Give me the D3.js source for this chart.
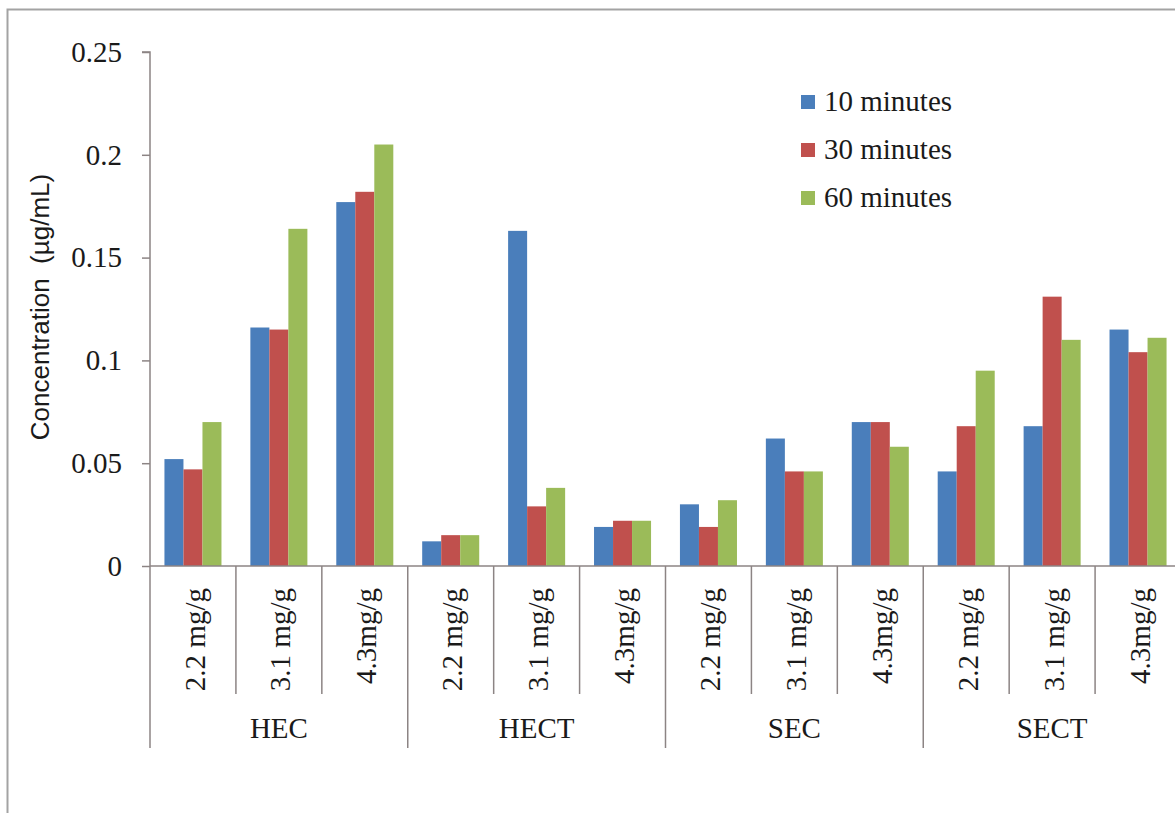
<!DOCTYPE html>
<html>
<head>
<meta charset="utf-8">
<script src="https://cdn.jsdelivr.net/npm/d3@7/dist/d3.min.js"></script>
<style>
  html, body { margin: 0; padding: 0; background: #ffffff; }
  svg { display: block; }
</style>
</head>
<body>
<svg id="chart" width="1175" height="813"></svg>
<script>
// Concentration by formulation, dose and sampling time
const groups = ["HEC", "HECT", "SEC", "SECT"];
const doses = ["2.2 mg/g", "3.1 mg/g", "4.3mg/g"];
const seriesNames = ["10 minutes", "30 minutes", "60 minutes"];
const seriesColors = ["#4a7ebb", "#c0504d", "#9bbb59"];

// values per dose within each group: HEC 2.2, 3.1, 4.3, HECT ..., SEC ..., SECT ...
const min10 = [0.052, 0.116, 0.177, 0.012, 0.163, 0.019, 0.030, 0.062, 0.070, 0.046, 0.068, 0.115];
const min30 = [0.047, 0.115, 0.182, 0.015, 0.029, 0.022, 0.019, 0.046, 0.070, 0.068, 0.131, 0.104];
const min60 = [0.070, 0.164, 0.205, 0.015, 0.038, 0.022, 0.032, 0.046, 0.058, 0.095, 0.110, 0.111];

const yTicks = [0, 0.05, 0.1, 0.15, 0.2, 0.25];
const yLabel = "Concentration  (\u00b5g/mL)";

const serif = "'Liberation Serif', 'Times New Roman', serif";
const sans = "'Liberation Sans', Arial, sans-serif";
const lineColor = "#8c8484";
const fontSize = 29;

// one row per group/dose cell
const cells = [];
groups.forEach((g, gi) => doses.forEach((d, di) => {
  const i = gi * doses.length + di;
  cells.push({ key: g + "|" + d, group: g, dose: d, values: [min10[i], min30[i], min60[i]] });
}));

const svg = d3.select("#chart");

// outer frame (left and top edges are visible)
svg.append("path")
  .attr("d", "M7.5,813 V9.5 H1175")
  .attr("fill", "none")
  .attr("stroke", "#a3a3a3")
  .attr("stroke-width", 2);

const x0 = 150, xEnd = 1181, yTop = 52, yBase = 566;

const x = d3.scaleBand()
  .domain(cells.map(c => c.key))
  .range([x0, xEnd])
  .paddingInner(0).paddingOuter(0);

const xs = d3.scaleBand()
  .domain(d3.range(seriesNames.length))
  .range([0, x.bandwidth()])
  .paddingInner(0)
  .paddingOuter(0.76);

const y = d3.scaleLinear().domain([0, 0.25]).range([yBase, yTop]);

// bars
const cellG = svg.append("g").selectAll("g")
  .data(cells).join("g")
  .attr("transform", c => `translate(${x(c.key)},0)`);

cellG.selectAll("rect")
  .data(c => c.values.map((v, s) => ({ v, s })))
  .join("rect")
  .attr("x", d => xs(d.s))
  .attr("width", xs.bandwidth())
  .attr("y", d => y(d.v))
  .attr("height", d => yBase - y(d.v))
  .attr("fill", d => seriesColors[d.s]);

// y axis
const yAxis = d3.axisLeft(y)
  .tickValues(yTicks)
  .tickSize(8)
  .tickPadding(20)
  .tickFormat(d => d === 0 ? "0" : String(+d.toFixed(2)));

const yg = svg.append("g")
  .attr("transform", `translate(${x0},0)`)
  .call(yAxis);
yg.select(".domain").attr("stroke", lineColor).attr("stroke-width", 1.5)
  .attr("d", `M-8,${yTop}H0V${yBase}`);
yg.selectAll(".tick line").attr("stroke", lineColor).attr("stroke-width", 1.5);
yg.selectAll(".tick text")
  .attr("font-family", serif)
  .attr("font-size", fontSize)
  .attr("fill", "#1a1a1a");

// y axis title
svg.append("text")
  .attr("transform", "translate(49,307) rotate(-90)")
  .attr("text-anchor", "middle")
  .attr("font-family", sans)
  .attr("font-size", 26)
  .attr("fill", "#1a1a1a")
  .attr("xml:space", "preserve")
  .style("white-space", "pre")
  .text(yLabel);

// x baseline
svg.append("line")
  .attr("x1", x0).attr("x2", xEnd)
  .attr("y1", yBase).attr("y2", yBase)
  .attr("stroke", lineColor).attr("stroke-width", 1.5);

// category separators (short) and group separators (long)
const sepG = svg.append("g").attr("stroke", lineColor).attr("stroke-width", 1.5);
cells.forEach((c, i) => {
  const isGroupStart = i % doses.length === 0;
  sepG.append("line")
    .attr("x1", x(c.key)).attr("x2", x(c.key))
    .attr("y1", yBase).attr("y2", isGroupStart ? 748 : 694);
});

// dose labels, rotated
svg.append("g").selectAll("text")
  .data(cells).join("text")
  .attr("transform", c => `translate(${x(c.key) + x.bandwidth() / 2 + 2},588) rotate(-90)`)
  .attr("text-anchor", "end")
  .attr("dy", "0.33em")
  .attr("font-family", serif)
  .attr("font-size", fontSize)
  .attr("fill", "#1a1a1a")
  .text(c => c.dose);

// group labels
svg.append("g").selectAll("text")
  .data(groups).join("text")
  .attr("x", g => {
    const first = x(g + "|" + doses[0]);
    const last = x(g + "|" + doses[doses.length - 1]) + x.bandwidth();
    return (first + last) / 2;
  })
  .attr("y", 738)
  .attr("text-anchor", "middle")
  .attr("font-family", serif)
  .attr("font-size", fontSize)
  .attr("fill", "#1a1a1a")
  .text(g => g);

// legend
const legend = svg.append("g").selectAll("g")
  .data(seriesNames).join("g")
  .attr("transform", (d, i) => `translate(801,${95 + i * 48})`);
legend.append("rect")
  .attr("width", 14).attr("height", 14)
  .attr("fill", (d, i) => seriesColors[i]);
legend.append("text")
  .attr("x", 23).attr("y", 16)
  .attr("font-family", serif)
  .attr("font-size", fontSize)
  .attr("fill", "#1a1a1a")
  .text(d => d);
</script>
</body>
</html>
